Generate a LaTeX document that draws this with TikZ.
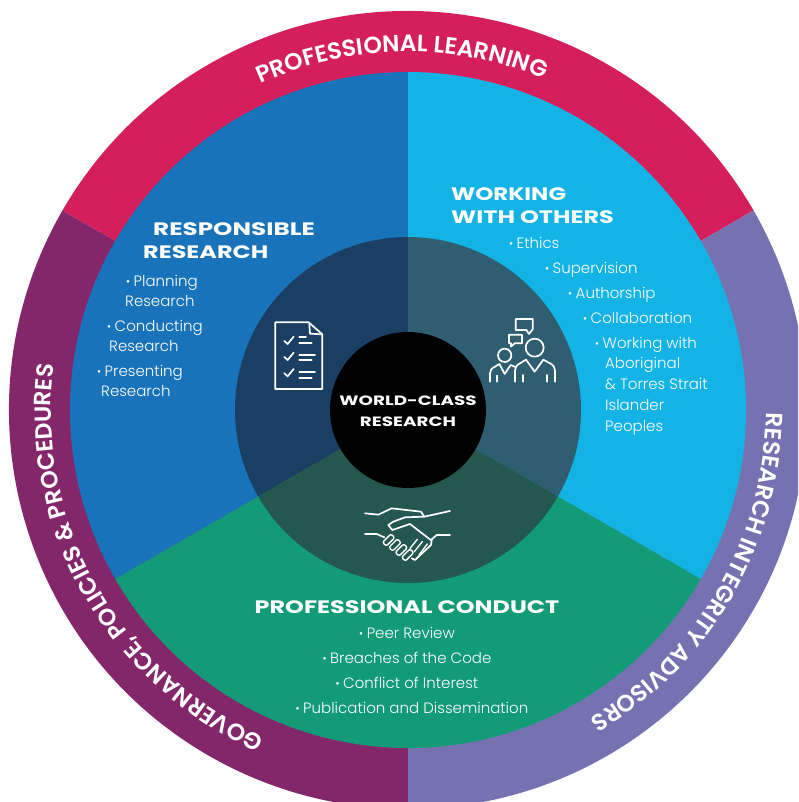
\documentclass[tikz,border=0pt]{standalone}
\usepackage{fontspec}
\usetikzlibrary{decorations.text}
\setmainfont{Poppins Light}
\newfontfamily\headfont[FakeStretch=1.33]{Poppins Bold}
\newfontfamily\coreheadfont[FakeStretch=1.36]{Poppins Bold}
\newfontfamily\ringfont{Poppins SemiBold}
\definecolor{crimson}{HTML}{D51F5C}
\definecolor{plum}{HTML}{84276A}
\definecolor{lav}{HTML}{7672B2}
\definecolor{rblue}{HTML}{1973BA}
\definecolor{rcyan}{HTML}{13B3E6}
\definecolor{rgreen}{HTML}{139B78}
\definecolor{mblue}{HTML}{1B3F63}
\definecolor{mcyan}{HTML}{2F5E70}
\definecolor{mgreen}{HTML}{24574E}
\newcommand{\bul}{{\fontsize{11}{11}\selectfont\raisebox{1pt}{•}}\hspace{3.5pt}}
\tikzset{
  head/.style={text=white,font=\headfont\fontsize{18}{18}\selectfont,inner sep=0pt},
  core/.style={text=white,font=\coreheadfont\fontsize{13.5}{13.5}\selectfont,inner sep=0pt},
  item/.style={text=white,font=\fontsize{15}{15}\selectfont,inner sep=0pt,anchor=base west},
  citem/.style={text=white,font=\fontsize{15}{15}\selectfont,inner sep=0pt,anchor=base},
  icon/.style={draw=white,line width=1.7pt,line join=round,line cap=round},
  thinicon/.style={icon,line width=1.35pt},
  ringdeco/.style={decorate,decoration={text along path,text align=center,text color=white,text={#1}}}
}
\begin{document}
\begin{tikzpicture}[x=1pt,y=-1pt]
\path[use as bounding box] (0,0) rectangle (798,802);
\clip (0,0) rectangle (798,802);
\begin{scope}[shift={(408,410)},y=1pt]
  \fill[crimson] (0,0) -- (30:399) arc[start angle=30,end angle=150,radius=399] -- cycle;
  \fill[plum] (0,0) -- (150:399) arc[start angle=150,end angle=270,radius=399] -- cycle;
  \fill[lav] (0,0) -- (270:399) arc[start angle=270,end angle=390,radius=399] -- cycle;
  \fill[rblue] (0,0) -- (90:338) arc[start angle=90,end angle=210,radius=338] -- cycle;
  \fill[rcyan] (0,0) -- (-30:338) arc[start angle=-30,end angle=90,radius=338] -- cycle;
  \fill[rgreen] (0,0) -- (210:338) arc[start angle=210,end angle=330,radius=338] -- cycle;
  \fill[mblue] (0,0) -- (90:173) arc[start angle=90,end angle=210,radius=173] -- cycle;
  \fill[mcyan] (0,0) -- (-30:173) arc[start angle=-30,end angle=90,radius=173] -- cycle;
  \fill[mgreen] (0,0) -- (210:173) arc[start angle=210,end angle=330,radius=173] -- cycle;
  \fill[black] (0,0) circle[radius=78];
  \path[ringdeco={|\ringfont\fontsize{23.5}{23.5}\selectfont|PROFESSIONAL LEARNING}]
    (151:358) arc[start angle=151,end angle=31,radius=358];
  \path[ringdeco={|\ringfont\fontsize{23.5}{23.5}\selectfont|RESEARCH INTEGRITY ADVISORS}]
    (30:358) arc[start angle=30,end angle=-90,radius=358];
  \path[ringdeco={|\ringfont\fontsize{23.5}{23.5}\selectfont|GOVERNANCE{,} POLICIES {\&} PROCEDURES}]
    (269.5:357) arc[start angle=269.5,end angle=149.5,radius=357];
\end{scope}

\node[head,anchor=base west,transform shape,xscale=1.03] (rr1) at (153,236) {RESPONSIBLE};
\node[head,anchor=base west] (rr2) at (143,258) {RESEARCH};
\node[head,anchor=base west,transform shape,xscale=.96] (wo1) at (451,201) {WORKING};
\node[head,anchor=base west] (wo2) at (451,224) {WITH OTHERS};
\node[head,anchor=base] (pc) at (407,613) {PROFESSIONAL CONDUCT};
\node[core,anchor=base] (wc1) at (408,405) {WORLD-CLASS};
\node[core,anchor=base] (wc2) at (408,426) {RESEARCH};

\node[item] (a1) at (126,286) {\bul Planning};
\node[item] (a2) at (125,306) {Research};
\node[item] (a3) at (107,331) {\bul Conducting};
\node[item] (a4) at (109,351) {Research};
\node[item] (a5) at (97,376) {\bul Presenting};
\node[item] (a6) at (101,396) {Research};

\node[item] (b1) at (509,248) {\bul Ethics};
\node[item] (b2) at (545,273) {\bul Supervision};
\node[item] (b3) at (568,298) {\bul Authorship};
\node[item] (b4) at (583,323) {\bul Collaboration};
\node[item] (b5) at (595,348) {\bul Working with};
\node[item] (b6) at (605,368) {Aboriginal};
\node[item] (b7) at (605,389) {\& Torres Strait};
\node[item] (b8) at (605,410) {Islander};
\node[item] (b9) at (605,431) {Peoples};

\node[citem] (c1) at (407,638) {\bul Peer Review};
\node[citem] (c2) at (407,663) {\bul Breaches of the Code};
\node[citem] (c3) at (407,688) {\bul Conflict of Interest};
\node[citem] (c4) at (412,713) {\bul Publication and Dissemination};

% checklist icon
\begin{scope}[shift={(230,230)},x=.3333pt,y=-.3333pt]
  \draw[icon] (136,277) -- (236,277) -- (277,313) -- (277,477) -- (136,477) -- cycle;
  \draw[icon] (238,282) -- (240,311) -- (275,313);
  \foreach \d in {0,48,97}{
    \draw[icon] (163,333+\d) -- (173,342+\d) -- (191,320+\d);
  }
  \draw[icon] (208,322) -- (228,322) (208,338) -- (245,338);
  \draw[icon] (208,374) -- (255,374) (208,390) -- (245,390);
  \draw[icon] (208,427) -- (255,427) (208,443) -- (245,443);
\end{scope}

% people icon
\begin{scope}[shift={(480,310)},x=.3333pt,y=-.3333pt]
  \draw[icon] (164,113) circle[radius=27pt*.3333];
  \draw[icon] (74,136) circle[radius=20pt*.3333];
  \draw[icon] (107,27) -- (158,27) -- (158,58) -- (147,72) -- (139,60) -- (107,60) -- cycle;
  \draw[icon] (87,74) -- (126,74) -- (126,100) -- (104,100) -- (93,110) -- (93,100) -- (87,100) -- cycle;
  \draw[icon] (105,215) -- (105,182) .. controls (105,172) and (110,165) .. (120,160)
     -- (138,149) -- (164,185) -- (190,149) -- (210,160)
     .. controls (220,165) and (225,172) .. (225,182) -- (225,215);
  \draw[icon] (128,195) -- (128,215) (202,195) -- (202,215);
  \draw[icon] (30,215) -- (30,190) .. controls (30,180) and (35,175) .. (45,170)
     -- (58,162) -- (74,192) -- (92,165) -- (108,172);
  \draw[icon] (50,197) -- (50,215);
\end{scope}

% handshake icon
\begin{scope}[shift={(355,500)},x=.3333pt,y=-.3333pt]
  \draw[icon] (30,40) -- (70,44) -- (110,25) -- (198,35) -- (208,50) -- (285,33);
  \draw[icon] (208,50) -- (150,52) -- (115,65) -- (100,75) -- (112,90) -- (165,72)
     -- (230,122) -- (228,135) -- (180,180) -- (170,175);
  \draw[icon] (30,102) -- (65,102) -- (88,112);
  \draw[icon] (285,105) -- (245,105) -- (228,120);
  \foreach \cx/\cy in {101/120,120/135,139/150,158/165}{
    \draw[thinicon,rounded corners=2pt,rotate around={45:(\cx,\cy)}] (\cx-18,\cy-8) rectangle (\cx+18,\cy+8);
  }
  \draw[thinicon] (187,118) -- (165,145) (202,125) -- (178,155) (217,132) -- (192,165);
\end{scope}
\end{tikzpicture}
\end{document}
